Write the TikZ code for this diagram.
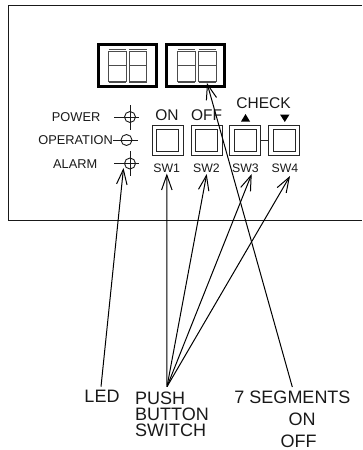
\documentclass[tikz,border=0pt]{standalone}
\usepackage{fontspec}
\setmainfont{Liberation Sans}
\usetikzlibrary{arrows.meta}
\tikzset{
 panel/.style={line width=1pt,draw=black!90},
 dispbox/.style={draw=black,line width=3pt,rectangle,minimum width=57.5pt,minimum height=42.5pt,inner sep=0},
 swouter/.style={draw=black!85,line width=1pt,rectangle,minimum width=31pt,minimum height=30.5pt,inner sep=0},
 swinner/.style={draw=black!85,line width=1pt,rectangle,minimum width=21.5pt,minimum height=22.5pt,inner sep=0},
 seg/.style={draw=black!70,line width=0.7pt},
 ledc/.style={draw=black!90,line width=0.9pt,circle,minimum size=11pt,inner sep=0},
 ledl/.style={draw=black!90,line width=0.9pt},
 lbl/.style={inner sep=0,text=black!90,align=center},
 call/.style={draw=black,line width=1pt,-{Straight Barb[length=15pt,width=10.5pt,line width=1pt]}},
 tri/.style={fill=black,draw=none},
}
\newcommand{\digit}[1]{%
 \draw[seg] (#1,49.5) -- (#1+17.5,49.5);
 \draw[seg] (#1,51) rectangle (#1+17.5,81);
 \draw[seg] (#1,65.7) -- (#1+17.5,65.7);
 \draw[seg] (#1,82) -- (#1+17.5,82);
}
\begin{document}
\begin{tikzpicture}[x=1pt,y=-1pt]
\useasboundingbox (0,0) rectangle (362,450);
\draw[panel] (362,5.7) -- (8.3,5.7) -- (8.3,220.3) -- (362,220.3);
% displays
\node[dispbox] (d1) at (127.3,65.3) {};
\node[dispbox] (d2) at (195.5,65.3) {};
\digit{108.5}
\digit{129.3}
\digit{177.7}
\digit{198.5}
% LEDs
\node[ledc] (l1) at (130,117) {};
\node[ledc] (l2) at (126.5,140) {};
\node[ledc] (l3) at (130,163.5) {};
\draw[ledl] (114,117) -- (138.5,117) (130,105) -- (130,129.5);
\draw[ledl] (113,140) -- (138,140);
\draw[ledl] (114,163.5) -- (138.5,163.5) (130,151) -- (130,175.5);
\node[lbl,font=\fontsize{12.8}{14}\selectfont,anchor=east] (t1) at (100.5,117) {POWER};
\node[lbl,font=\fontsize{12.8}{14}\selectfont,anchor=east] (t2) at (113,140) {OPERATION};
\node[lbl,font=\fontsize{12.8}{14}\selectfont,anchor=east] (t3) at (97.5,164) {ALARM};
% switches
\foreach \n/\x in {a/167.5,b/206.5,c/245.3,d/284.3}{
 \node[swouter] (s\n) at (\x,140.3) {};
 \node[swinner] (i\n) at (\x,140.5) {};
}
\draw[draw=black!85,line width=1pt] (sc.east) -- (sd.west);
\node[lbl,font=\fontsize{15.5}{17}\selectfont] (on) at (167,115.5) {ON};
\node[lbl,font=\fontsize{15.5}{17}\selectfont] (off) at (206.5,115.5) {OFF};
\node[lbl,font=\fontsize{15.5}{17}\selectfont] (chk) at (263.5,103.5) {CHECK};
\foreach \n/\x in {1/166.7,2/206.5,3/245.5,4/285}{
 \node[lbl,font=\fontsize{12.3}{14}\selectfont] (sw\n) at (\x,168.5) {SW\n};
}
\fill[tri] (241,121.5) -- (250,121.5) -- (245.5,114) -- cycle;
\fill[tri] (280,114.5) -- (289.5,114.5) -- (284.8,122) -- cycle;
% callouts
\coordinate (aled) at (101,386.7);
\coordinate (apush) at (167,386.7);
\coordinate (aseg) at (292.3,387);
\coordinate (tled) at (123.5,168);
\coordinate (ts1) at (166.8,173.5);
\coordinate (ts2) at (206.7,174);
\coordinate (ts3) at (251.7,174);
\coordinate (ts4) at (290,176);
\coordinate (tseg) at (207,83);
\draw[call] (aled) -- (tled);
\foreach \t in {ts1,ts2,ts3,ts4}{\draw[call] (apush) -- (\t);}
\draw[call] (aseg) -- (tseg);
\node[lbl,font=\fontsize{18}{20}\selectfont] (led) at (102,396) {LED};
\node[lbl,font=\fontsize{18}{16}\selectfont,align=left,anchor=north west] (push) at (135,391.5) {PUSH\\BUTTON\\SWITCH};
\node[lbl,font=\fontsize{18}{20}\selectfont] (seven) at (292.5,397) {7 SEGMENTS};
\node[lbl,font=\fontsize{18}{20}\selectfont] (son) at (302,419) {ON};
\node[lbl,font=\fontsize{18}{20}\selectfont] (soff) at (298.5,441.5) {OFF};
\end{tikzpicture}
\end{document}
